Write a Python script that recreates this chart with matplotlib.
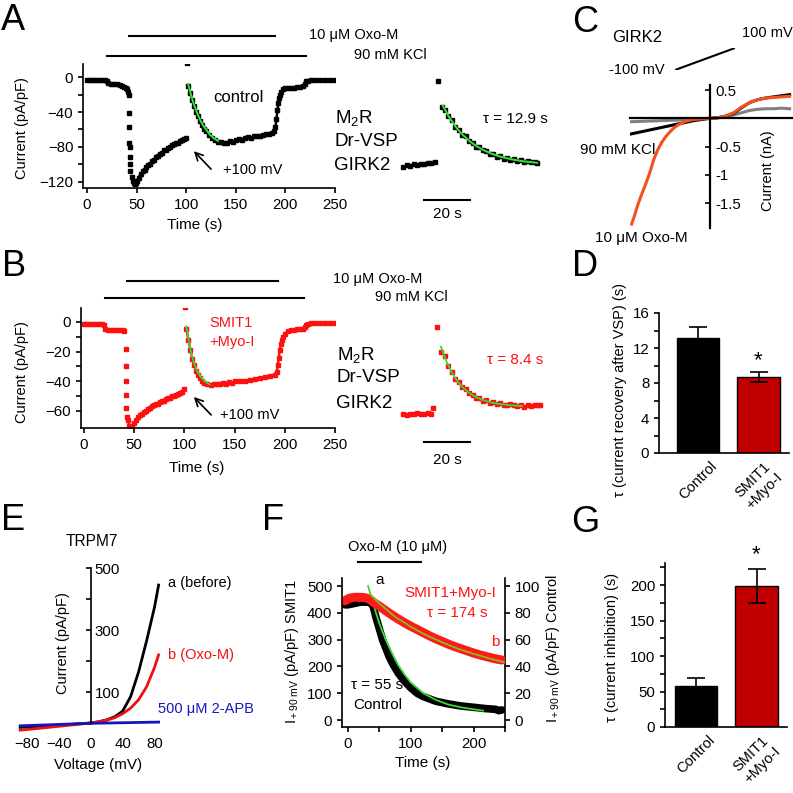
import matplotlib.pyplot as plt
import matplotlib.transforms as mtransforms
import numpy as np

plt.rcParams['font.family'] = ['Liberation Sans', 'DejaVu Sans']
plt.rcParams['mathtext.fontset'] = 'custom'
plt.rcParams['mathtext.rm'] = 'Liberation Sans'
plt.rcParams['mathtext.it'] = 'Liberation Sans:italic'
plt.rcParams['font.size'] = 10.5
plt.rcParams['axes.linewidth'] = 1.2
for a in ('xtick', 'ytick'):
    plt.rcParams[a + '.major.width'] = 1.2
    plt.rcParams[a + '.minor.width'] = 1.2
    plt.rcParams[a + '.major.size'] = 3.5
    plt.rcParams[a + '.minor.size'] = 3.5
    plt.rcParams[a + '.labelsize'] = 10.8

RED = '#FF1010'
DRED = '#C00000'
GREEN = '#33DD33'
ORANGE = '#F4511E'

# ---------------- data ----------------
# A: control, GIRK2 current (pA/pF) vs time (s)
a_base_t = [0, 3, 6, 9, 12, 15, 18, 20, 21, 24, 27, 30, 33, 35, 37, 39, 40, 41, 42]
a_base_i = [-3, -3, -3, -3, -3, -3.5, -3.5, -4, -7, -8, -8, -8, -8.5, -10, -11, -12, -14, -17, -20]
a_drop_t = [42.5, 42.6, 42.8, 43, 43, 43.2, 43.5]
a_drop_i = [-41, -57, -75, -80, -91, -100, -108]
a_rec_t = [45, 46, 47, 48, 49, 50, 52, 54, 56, 58, 60, 62, 64, 66, 68, 70, 72, 74, 76, 78,
           80, 82, 84, 86, 88, 90, 92, 94, 96, 98, 100]
a_rec_i = [-114, -119, -121, -122, -121, -119, -115, -111, -108, -106, -103, -101, -99, -96, -95,
           -92, -90, -88, -87, -84, -83, -81, -80, -78, -77, -76, -75, -73, -72, -71, -70]
a_spike_t = [100.5]
a_spike_i = [16]
a_post_t = [102, 104, 106, 108, 110, 112, 114, 116, 118, 120, 123, 126, 129, 132, 135, 138, 141,
            144, 147, 150, 153, 156, 159, 162, 165, 168, 171, 174, 177, 180, 183, 186, 189, 190,
            191, 192, 193, 194, 195, 196, 198, 200, 203, 206, 209, 212, 215, 218, 220, 221, 223,
            226, 230, 235, 240, 245, 250]
a_post_i = [-10, -18, -26, -33, -40, -45, -50, -55, -59, -62, -66, -70, -72, -74, -74, -76, -75,
            -73, -74, -72, -71, -72, -70, -69, -70, -68, -67, -67, -66, -65, -65, -64, -62, -57,
            -48, -38, -30, -24, -20, -17, -14, -13, -12, -12, -12, -11, -11, -10, -8, -5, -4,
            -3, -3, -3, -3, -3, -3]
a_fit_t = [102, 105, 108, 111, 114, 117, 120, 124, 128, 132]
a_fit_i = [-8, -21, -32, -41, -49, -55, -60, -66, -70, -73]
a_oxo = [42, 190]
a_kcl = [20, 221]

# A inset (expanded time scale)
ia_pre_t = [85.5, 87, 88.5, 90, 91.5, 93, 94.5, 96, 97.5, 99]
ia_pre_i = [-73.5, -72, -73, -71, -72, -70.5, -71, -69.5, -70, -68.5]
ia_spike_t = [100.6]
ia_spike_i = [15.5]
ia_post_t = [102.4, 103.6, 105, 106.5, 108, 109.5, 111, 112.5, 114, 115.5, 117, 118.5, 120,
             121.5, 123, 124.5, 126, 127.5, 129, 130.5, 132, 133.5, 135, 136.5, 138, 139.5,
             141, 142.5, 143.5]
ia_post_i = [-11, -14, -21, -25, -32, -35, -40, -42, -47, -48.5, -52.5, -53.5, -56.5, -57, -60,
             -60, -63, -62.5, -65, -64.5, -66.5, -66, -67.5, -67, -69, -68, -69, -68.5, -69.5]
ia_fit_t = [102.6, 105.6, 108.6, 111.6, 114.6, 117.6, 120.6, 123.6, 127.6, 132.6, 137.6, 143.6]
ia_fit_i = [-10, -22.9, -33.1, -41.1, -47.6, -52.6, -56.6, -59.8, -63.1, -65.9, -67.9, -69.4]

# B: SMIT1 + Myo-inositol
b_base_t = [0, 3, 6, 9, 12, 15, 18, 20, 21, 24, 27, 30, 33, 36, 39, 40]
b_base_i = [-1.5, -1.5, -1.5, -1.5, -1.5, -1.5, -1.5, -2, -5, -5.5, -5.5, -5.5, -5.5, -5.5, -5.5, -6]
b_drop_t = [41.5, 41.6, 41.8, 42, 42.2, 42.5]
b_drop_i = [-18, -30, -40, -49, -58, -64]
b_rec_t = [44, 45, 46, 47, 48, 50, 52, 54, 56, 58, 60, 62, 64, 66, 68, 70, 72, 74, 76, 78, 80,
           82, 84, 86, 88, 90, 92, 94, 96, 98, 100]
b_rec_i = [-66, -70, -71, -71, -70, -68, -66, -64, -63, -62, -61, -60, -59, -58, -57, -56, -55.5,
           -55, -54, -53.5, -53, -52, -51.5, -51, -50, -50, -49, -48.5, -48, -47, -45]
b_spike_t = [100.5]
b_spike_i = [10]
b_post_t = [102, 104, 106, 108, 110, 112, 114, 116, 118, 120, 123, 126, 129, 132, 135, 138, 141,
            144, 147, 150, 155, 160, 165, 170, 175, 180, 185, 190, 192, 193, 194, 195, 196, 197,
            198, 200, 203, 206, 209, 212, 215, 218, 220, 221, 223, 226, 230, 235, 240, 245, 250]
b_post_i = [-5, -12, -19, -25, -29, -33, -36, -38, -40, -41, -42, -42.5, -42, -41.5, -42, -41,
            -41.5, -40.5, -41, -40, -40, -39.5, -39, -38.5, -38, -37, -36.5, -35.5, -34, -29, -24,
            -19, -15, -12, -10, -8, -6, -5.5, -5.5, -5, -5, -4.5, -3.5, -2, -1.5, -1, -1, -1, -1,
            -1, -1]
b_fit_t = [102, 104, 106, 108, 110, 113, 116, 120, 125]
b_fit_i = [-3, -11.5, -18.5, -24, -28.5, -33.5, -36.8, -39.8, -42]
b_oxo = [43, 193]
b_kcl = [21, 219]

# B inset
ib_pre_t = [85.5, 87, 88.5, 90, 91.5, 93, 94.5, 96, 97.5, 98.5]
ib_pre_i = [-48, -48.5, -47.5, -48, -47, -47.5, -48, -47, -47.5, -43.5]
ib_spike_t = [100.1]
ib_spike_i = [10]
ib_post_t = [102, 103.5, 105, 106.5, 108, 109.5, 111, 112.5, 114, 115.5, 117, 118.5, 120, 121.5,
             123, 124.5, 126, 127.5, 129, 130.5, 132, 133.5, 135, 136.5, 138, 139.5, 141, 142.5,
             144, 145]
ib_post_i = [-6.5, -9, -16, -19.5, -24.5, -26.5, -30, -31, -34, -35, -37, -37, -39, -38.5, -40.5,
             -40, -41, -40.5, -41.5, -42, -41, -42, -42.5, -42, -43, -42, -42.5, -41.5, -42, -41.5]
ib_fit_t = [101.8, 104, 106, 108, 110, 112, 114, 117, 120, 124, 128, 132, 137]
ib_fit_i = [-3, -12.2, -18.7, -23.9, -27.9, -31.1, -33.6, -36.5, -38.4, -40.2, -41.2, -41.9, -42.4]

# C: GIRK2 I-V (nA) during voltage ramp
c_v = [-100, -90, -80, -70, -60, -50, -40, -30, -20, -10, 0, 10, 20, 30, 40, 50, 60, 70, 80, 90, 100]
c_kcl = [-0.28, -0.25, -0.22, -0.19, -0.16, -0.13, -0.10, -0.07, -0.04, -0.02, 0, 0.01, 0.04,
         0.09, 0.19, 0.28, 0.33, 0.36, 0.38, 0.40, 0.42]
c_gray = [-0.06, -0.055, -0.05, -0.045, -0.04, -0.035, -0.03, -0.022, -0.015, -0.007, 0, 0.01,
          0.03, 0.06, 0.1, 0.14, 0.16, 0.17, 0.17, 0.18, 0.17]
c_v_oxo = [-98, -95, -90, -85, -80, -75, -70, -65, -60, -55, -50, -45, -40, -35, -30, -20, -10,
           0, 10, 20, 30, 40, 50, 60, 70, 80, 90, 100]
c_oxo = [-1.87, -1.75, -1.52, -1.33, -1.15, -0.95, -0.72, -0.55, -0.42, -0.32, -0.24, -0.17,
         -0.12, -0.08, -0.05, -0.02, -0.01, 0, 0.01, 0.04, 0.1, 0.2, 0.28, 0.33, 0.36, 0.37,
         0.38, 0.39]
ramp_t = [0, 1]
ramp_v = [-100, 100]

# D: tau of recovery after VSP (s)
groups = ['Control', 'SMIT1\n+Myo-I']
d_mean = [13.2, 8.7]
d_sem = [1.2, 0.6]

# E: TRPM7 I-V (pA/pF)
e_v = [-88, -60, -30, 0, 10, 20, 30, 40, 50, 60, 70, 80, 85]
e_before = [-14, -10, -5, 0, 4, 10, 20, 38, 85, 165, 265, 375, 445]
e_oxo = [-23, -16, -8, 0, 4, 9, 17, 30, 48, 75, 117, 180, 220]
e_v_apb = [-88, 0, 85]
e_apb = [-9, -1, 3]

# F: TRPM7 current at +90 mV vs time
f_t_smit = [-5, 0, 5, 10, 15, 20, 25, 30, 35, 40, 50, 60, 70, 80, 90, 100, 110, 120, 130, 140,
            150, 160, 170, 180, 190, 200, 210, 220, 230, 240, 245]
f_smit = [445, 452, 456, 458, 458, 458, 457, 455, 450, 440, 425, 408, 392, 377, 363, 350, 338,
          326, 314, 303, 293, 283, 274, 266, 258, 250, 243, 237, 231, 226, 224]
f_t_ctrl = [-5, 0, 10, 20, 30, 35, 40, 45, 50, 55, 60, 65, 70, 80, 90, 100, 110, 120, 140, 160,
            180, 200, 220, 235, 240, 245]
f_ctrl = [86, 86, 87, 88, 88, 88, 85, 76, 68, 60, 54, 48, 43, 35, 29, 24, 20, 17.5, 14, 12,
          10.5, 9.5, 8.5, 8, 7, 7.5]
f_fit_t_ctrl = [32, 40, 50, 60, 70, 80, 90, 100, 110, 120, 140, 160, 180, 200, 215]
f_fit_ctrl = [100, 87, 72, 60, 50, 41, 34, 28, 24, 20, 15, 11.5, 9.5, 8, 7]
f_fit_t_smit = [35, 50, 75, 100, 125, 150, 175, 200, 225, 248]
f_fit_smit = [470, 435, 385, 348, 316, 290, 266, 247, 230, 216]
f_oxo = [16, 117]

# G: tau of current inhibition (s)
g_mean = [58, 198]
g_sem = [11, 24]

# ---------------- figure ----------------
W = H = 793
fig = plt.figure(figsize=(W / 100, H / 100), dpi=100)


def px_ax(x0, y0, x1, y1):
    return fig.add_axes([x0 / W, 1 - y1 / H, (x1 - x0) / W, (y1 - y0) / H])


def txt(x, y, s, **kw):
    kw.setdefault('ha', 'left')
    kw.setdefault('va', 'center')
    fig.text(x / W, 1 - y / H, s, **kw)


def clean(ax):
    ax.spines['top'].set_visible(False)
    ax.spines['right'].set_visible(False)


def trace(ax, t, i, color, line=True):
    ax.plot(t, i, 's-' if line else 's', color=color, ms=3, lw=1.8 if line else 0, mec=color)


# panel letters
for letter, x, y in [('A', 13, 20), ('B', 14, 266), ('C', 585, 22), ('D', 585, 266),
                     ('E', 13, 520), ('F', 273, 520), ('G', 585, 522)]:
    txt(x, y, letter, fontsize=26, ha='center')

# ----- A -----
axA = px_ax(83, 64, 335, 188)
clean(axA)
trace(axA, a_base_t, a_base_i, 'k')
trace(axA, a_drop_t, a_drop_i, 'k', line=False)
trace(axA, a_rec_t, a_rec_i, 'k')
trace(axA, a_spike_t, a_spike_i, 'k', line=False)
trace(axA, a_post_t, a_post_i, 'k')
axA.plot(a_fit_t, a_fit_i, color=GREEN, lw=1.5)
axA.plot(a_oxo, [47, 47], color='k', lw=1.5, clip_on=False)
axA.plot(a_kcl, [24, 24], color='k', lw=1.5, clip_on=False)
axA.set_xlim(-4, 250)
axA.set_ylim(-127, 15)
axA.set_xticks(range(0, 251, 50))
axA.set_yticks([0, -40, -80, -120])
axA.set_yticks([-20, -60, -100], minor=True)
axA.annotate('', xy=(105.8, -82.5), xytext=(127, -107.7),
             arrowprops=dict(arrowstyle='->', lw=1.2, color='k', mutation_scale=14))
txt(22, 128, 'Current (pA/pF)', rotation=90, ha='center')
txt(195, 225, 'Time (s)', ha='center', fontsize=11)
txt(398, 35, '10 \u03bcM Oxo-M', ha='right')
txt(427, 55, '90 mM KCl', ha='right')
txt(238, 97, 'control', ha='center', fontsize=12)
txt(223, 170, '+100 mV')
txt(335, 118, r'M$_2$R', fontsize=13.5)
txt(335, 142, 'Dr-VSP', fontsize=13.5)
txt(334, 165, 'GIRK2', fontsize=13.5)

axAi = px_ax(400, 75, 545, 215)
axAi.axis('off')
trace(axAi, ia_pre_t, ia_pre_i, 'k', line=False)
trace(axAi, ia_spike_t, ia_spike_i, 'k', line=False)
trace(axAi, ia_post_t, ia_post_i, 'k', line=False)
axAi.plot(ia_fit_t, ia_fit_i, color=GREEN, lw=1.5)
axAi.plot([94.4, 114.4], [-108.2, -108.2], color='k', lw=1.5)
axAi.set_xlim(84, 147)
axAi.set_ylim(-123.8, 22)
txt(483, 119, '\u03c4 = 12.9 s', fontsize=11)
txt(447, 214, '20 s', ha='center', fontsize=11)

# ----- B -----
axB = px_ax(81, 308, 335, 428)
clean(axB)
trace(axB, b_base_t, b_base_i, RED)
trace(axB, b_drop_t, b_drop_i, RED, line=False)
trace(axB, b_rec_t, b_rec_i, RED)
trace(axB, b_spike_t, b_spike_i, RED, line=False)
trace(axB, b_post_t, b_post_i, RED)
axB.plot(b_fit_t, b_fit_i, color=GREEN, lw=1.3)
axB.plot(b_oxo, [27.6, 27.6], color='k', lw=1.5, clip_on=False)
axB.plot(b_kcl, [16.1, 16.1], color='k', lw=1.5, clip_on=False)
axB.set_xlim(-3, 250)
axB.set_ylim(-71.5, 9.4)
axB.set_xticks(range(0, 251, 50))
axB.set_yticks([0, -20, -40, -60])
axB.set_yticks([-10, -30, -50], minor=True)
axB.annotate('', xy=(107.5, -49.2), xytext=(128.5, -64),
             arrowprops=dict(arrowstyle='->', lw=1.2, color='k', mutation_scale=14))
txt(22, 372, 'Current (pA/pF)', rotation=90, ha='center')
txt(197, 468, 'Time (s)', ha='center', fontsize=11)
txt(422, 279, '10 \u03bcM Oxo-M', ha='right')
txt(448, 297, '90 mM KCl', ha='right')
txt(231, 323, 'SMIT1', ha='center', color=RED)
txt(232, 342, '+Myo-I', ha='center', color=RED)
txt(220, 415, '+100 mV')
txt(337, 355, r'M$_2$R', fontsize=13.5)
txt(337, 378, 'Dr-VSP', fontsize=13.5)
txt(336, 403, 'GIRK2', fontsize=13.5)

axBi = px_ax(400, 320, 545, 450)
axBi.axis('off')
trace(axBi, ib_pre_t, ib_pre_i, RED, line=False)
trace(axBi, ib_spike_t, ib_spike_i, RED, line=False)
trace(axBi, ib_post_t, ib_post_i, RED, line=False)
axBi.plot(ib_fit_t, ib_fit_i, color=GREEN, lw=1.3)
axBi.plot([94.4, 114.4], [-66.3, -66.3], color='k', lw=1.5)
axBi.set_xlim(84, 147)
axBi.set_ylim(-71.6, 14.7)
txt(487, 360, '\u03c4 = 8.4 s', color=RED, fontsize=11)
txt(447, 460, '20 s', ha='center', fontsize=11)

# ----- C -----
axC = px_ax(630, 85, 792, 228)
axC.plot(c_v, c_gray, color='#7f7f7f', lw=2.2)
axC.plot(c_v, c_kcl, color='k', lw=2.2)
axC.plot(c_v_oxo, c_oxo, color=ORANGE, lw=2.2)
axC.set_xlim(-100, 103)
axC.set_ylim(-1.94, 0.59)
axC.spines['top'].set_visible(False)
axC.spines['left'].set_visible(False)
axC.spines['right'].set_position(('data', 0))
axC.spines['bottom'].set_position(('data', 0))
axC.spines['bottom'].set_linewidth(1.6)
axC.spines['right'].set_linewidth(1.6)
axC.set_xticks([])
axC.yaxis.tick_right()
axC.tick_params(axis='y', direction='in', pad=4)
axC.set_yticks([0.5, -0.5, -1, -1.5])
axC.set_yticklabels(['0.5', '-0.5', '-1', '-1.5'])
axR = px_ax(675, 48, 735, 70)
axR.axis('off')
axR.plot(ramp_t, ramp_v, color='k', lw=1.5)
axR.set_xlim(0, 1)
axR.set_ylim(-100, 100)
txt(612, 37, 'GIRK2', fontsize=12)
txt(665, 70, '-100 mV', ha='right')
txt(742, 33, '100 mV')
txt(580, 150, '90 mM KCl', fontsize=11)
txt(641, 238, '10 \u03bcM Oxo-M', ha='center', fontsize=11)
txt(768, 171, 'Current (nA)', rotation=90, ha='center')


# ----- bar panels -----
def bars(ax, mean, sem, ymax, major, minor):
    clean(ax)
    ax.bar([0, 1], mean, width=0.7, color=['k', DRED], edgecolor='k', lw=1)
    ax.errorbar([0, 1], mean, yerr=sem, fmt='none', ecolor='k', elinewidth=1.2,
                capsize=6.5, capthick=1.2)
    ax.set_ylim(0, ymax)
    ax.set_yticks(major)
    ax.set_yticks(minor, minor=True)
    ax.set_xticks([0, 1])
    ax.set_xticklabels(groups, rotation=45, ha='center', va='top', fontsize=10.5)
    off = mtransforms.ScaledTranslation(-6 / 100, 0, fig.dpi_scale_trans)
    for lab in ax.get_xticklabels():
        lab.set_transform(lab.get_transform() + off)
    ax.tick_params(axis='x', length=0, pad=4)


axD = px_ax(659, 313, 789, 453)
bars(axD, d_mean, d_sem, 16, [0, 4, 8, 12, 16], [2, 6, 10, 14])
axD.set_xlim(-0.645, 1.504)
axD.text(1, 9.4, '*', ha='center', va='bottom', fontsize=16)
txt(620, 390, '\u03c4 (current recovery after VSP) (s)', rotation=90, ha='center')

axG = px_ax(665, 563, 787, 727)
bars(axG, g_mean, g_sem, 231, [0, 50, 100, 150, 200], [25, 75, 125, 175, 225])
axG.set_xlim(-0.512, 1.504)
axG.text(1, 228, '*', ha='center', va='bottom', fontsize=16, clip_on=False)
txt(612, 647, '\u03c4 (current inhibition) (s)', rotation=90, ha='center')

# ----- E -----
axE = px_ax(17, 565, 161, 740)
axE.plot(e_v, e_before, color='k', lw=2)
axE.plot(e_v, e_oxo, color='#EE1111', lw=2)
axE.plot(e_v_apb, e_apb, color='#1515C0', lw=2)
axE.set_xlim(-92, 88)
axE.set_ylim(-54.8, 509.7)
for s in ('top', 'left'):
    axE.spines[s].set_visible(False)
axE.spines['bottom'].set_position(('data', 0))
axE.spines['bottom'].set_color('none')
axE.spines['right'].set_position(('data', 0))
axE.spines['right'].set_bounds(0, 500)
axE.yaxis.tick_right()
axE.tick_params(axis='y', direction='in', pad=3)
axE.set_yticks([100, 200, 300, 400, 500])
axE.set_yticklabels(['100', '', '300', '', '500'])
axE.set_xticks([-80, -40, 0, 40, 80])
axE.tick_params(axis='x', length=0, pad=10)
txt(92, 542, 'TRPM7', ha='center', fontsize=11.2)
txt(168, 583, 'a (before)')
txt(168, 655, 'b (Oxo-M)', color='#EE1111')
txt(158, 709, '500 \u03bcM 2-APB', color='#1515C0')
txt(63, 643, 'Current (pA/pF)', rotation=90, ha='center')
txt(98, 765, 'Voltage (mV)', ha='center', fontsize=11)

# ----- F -----
axF = px_ax(342, 578, 505, 727)
axF2 = axF.twinx()
axF.set_zorder(2)
axF.patch.set_visible(False)
axF2.plot(f_t_ctrl, f_ctrl, color='k', lw=5.5, solid_capstyle='round')
axF2.plot(f_fit_t_ctrl, f_fit_ctrl, color=GREEN, lw=1.3)
axF.plot(f_t_smit, f_smit, color='#FF1A1A', lw=6.5, solid_capstyle='round')
axF.plot(f_fit_t_smit, f_fit_smit, color='#88BB22', lw=1.3)
axF.plot(f_oxo, [589.7, 589.7], color='k', lw=1.5, clip_on=False)
axF.set_xlim(-9.5, 248)
axF.set_ylim(-26, 530)
axF2.set_ylim(-5.2, 106)
axF.spines['top'].set_visible(False)
axF.spines['right'].set_visible(False)
for s in ('top', 'left', 'bottom'):
    axF2.spines[s].set_visible(False)
axF.set_xticks([0, 100, 200])
axF.set_xticks([50, 150, 250], minor=True)
axF.set_yticks(range(0, 501, 100))
axF2.set_yticks(range(0, 101, 20))
txt(398, 547, 'Oxo-M (10 \u03bcM)', ha='center')
txt(380, 580, 'a', ha='center', fontsize=11)
txt(450, 593, 'SMIT1+Myo-I', ha='center', color=RED, fontsize=11)
txt(457, 613, '\u03c4 = 174 s', ha='center', color=RED, fontsize=11)
txt(495, 642, 'b', ha='center', color=RED, fontsize=11)
txt(377, 685, '\u03c4 = 55 s', ha='center', fontsize=11)
txt(378, 705, 'Control', ha='center', fontsize=11)
txt(292, 652, r'I$_{\rm +90\ mV}$ (pA/pF) SMIT1', rotation=90, ha='center')
txt(553, 649, r'I$_{\rm +90\ mV}$ (pA/pF) Control', rotation=90, ha='center')
txt(423, 763, 'Time (s)', ha='center', fontsize=11)

fig.savefig('out.png', dpi=100)
